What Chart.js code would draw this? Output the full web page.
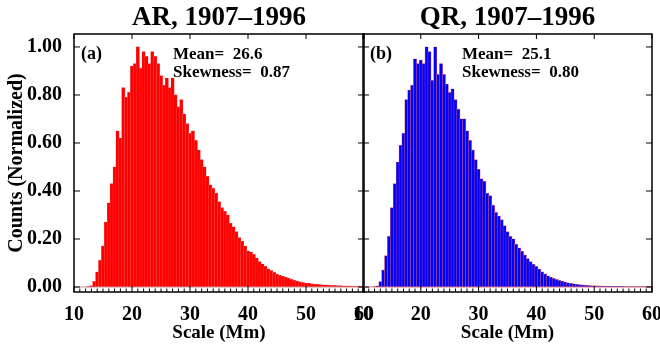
<!DOCTYPE html>
<html>
<head>
<meta charset="utf-8">
<script src="https://cdn.jsdelivr.net/npm/chart.js@4.4.1/dist/chart.umd.min.js"></script>
<style>
  html, body { margin: 0; padding: 0; background: #fff; }
  #wrap { position: relative; width: 660px; height: 345px; }
  canvas { position: absolute; left: 0; top: 0; }
</style>
</head>
<body>
<div id="wrap">
  <canvas id="arChart" width="660" height="345"></canvas>
  <canvas id="qrChart" width="660" height="345"></canvas>
</div>
<script>
// bin centres (Mm)
const scaleMm = [
  10, 10.5, 11, 11.5, 12, 12.5, 13, 13.5, 14, 14.5,
  15, 15.5, 16, 16.5, 17, 17.5, 18, 18.5, 19, 19.5,
  20, 20.5, 21, 21.5, 22, 22.5, 23, 23.5, 24, 24.5,
  25, 25.5, 26, 26.5, 27, 27.5, 28, 28.5, 29, 29.5,
  30, 30.5, 31, 31.5, 32, 32.5, 33, 33.5, 34, 34.5,
  35, 35.5, 36, 36.5, 37, 37.5, 38, 38.5, 39, 39.5,
  40, 40.5, 41, 41.5, 42, 42.5, 43, 43.5, 44, 44.5,
  45, 45.5, 46, 46.5, 47, 47.5, 48, 48.5, 49, 49.5,
  50, 50.5, 51, 51.5, 52, 52.5, 53, 53.5, 54, 54.5,
  55, 55.5, 56, 56.5, 57, 57.5, 58, 58.5, 59, 59.5,
  60
];

// AR counts (normalized)
const arCounts = [
  0, 0, 0, 0, 0, 0.002, 0.005, 0.023, 0.062, 0.11,
  0.17, 0.27, 0.35, 0.43, 0.50, 0.65, 0.62, 0.83, 0.79, 0.81,
  0.92, 0.93, 1.00, 0.91, 0.98, 0.96, 0.93, 0.98, 0.96, 0.93,
  0.88, 0.84, 0.87, 0.83, 0.87, 0.80, 0.75, 0.78, 0.72, 0.68,
  0.64, 0.65, 0.61, 0.57, 0.53, 0.50, 0.46, 0.425, 0.41, 0.39,
  0.355, 0.33, 0.315, 0.30, 0.265, 0.25, 0.23, 0.205, 0.19, 0.17,
  0.15, 0.145, 0.135, 0.12, 0.105, 0.095, 0.085, 0.075, 0.068, 0.06,
  0.053, 0.048, 0.044, 0.04, 0.036, 0.031, 0.027, 0.024, 0.021, 0.018,
  0.016, 0.015, 0.013, 0.011, 0.01, 0.009, 0.008, 0.008, 0.007, 0.006,
  0.006, 0.005, 0.005, 0.004, 0.004, 0.004, 0.003, 0.003, 0.003, 0.002,
  0.002
];

// QR counts (normalized)
const qrCounts = [
  0, 0, 0, 0, 0.001, 0.004, 0.022, 0.07, 0.13, 0.21,
  0.33, 0.43, 0.52, 0.59, 0.64, 0.78, 0.82, 0.84, 0.95, 0.93,
  0.945, 0.93, 1.00, 0.98, 0.86, 1.00, 0.885, 0.93, 0.885, 0.845,
  0.81, 0.825, 0.78, 0.74, 0.70, 0.70, 0.65, 0.61, 0.57, 0.53,
  0.49, 0.45, 0.44, 0.39, 0.38, 0.34, 0.31, 0.295, 0.28, 0.255,
  0.23, 0.21, 0.20, 0.178, 0.163, 0.148, 0.133, 0.118, 0.105, 0.094,
  0.085, 0.074, 0.062, 0.054, 0.046, 0.04, 0.035, 0.031, 0.027, 0.023,
  0.02, 0.017, 0.015, 0.013, 0.011, 0.009, 0.008, 0.007, 0.006, 0.005,
  0.005, 0.004, 0.004, 0.003, 0.003, 0.003, 0.002, 0.002, 0.002, 0.002,
  0.002, 0.001, 0.001, 0.001, 0.001, 0.001, 0.001, 0.001, 0.001, 0.001,
  0.001
];

const xTickLabels = [10, 20, 30, 40, 50, 60];
const yTicks = [0, 0.2, 0.4, 0.6, 0.8, 1.0];

const serif = 'Liberation Serif';

// box, inward ticks and the text on each panel
const framePlugin = {
  id: 'frame',
  afterDraw(chart, args, opts) {
    const { ctx, chartArea: a } = chart;
    const x = chart.scales.x, y = chart.scales.y;
    ctx.save();

    const y0 = y.getPixelForValue(0);
    ctx.strokeStyle = opts.zeroColor;
    ctx.lineWidth = 1;
    ctx.beginPath();
    ctx.moveTo(a.left, y0);
    ctx.lineTo(a.right, y0);
    ctx.stroke();

    ctx.strokeStyle = '#000';
    ctx.lineWidth = 1.5;
    ctx.strokeRect(a.left, a.top, a.right - a.left, a.bottom - a.top);

    ctx.lineWidth = 1;
    ctx.beginPath();
    scaleMm.forEach((v, i) => {
      if (v % 1 !== 0) return;
      const px = x.getPixelForValue(i);
      const major = xTickLabels.includes(v);
      ctx.moveTo(px, a.bottom);
      ctx.lineTo(px, a.bottom - (major ? 6 : 3.5));
      if (major) {
        ctx.moveTo(px, a.top);
        ctx.lineTo(px, a.top + 5);
      }
    });
    yTicks.forEach(v => {
      const py = y.getPixelForValue(v);
      ctx.moveTo(a.left, py);
      ctx.lineTo(a.left + 6, py);
      ctx.moveTo(a.right, py);
      ctx.lineTo(a.right - 6, py);
    });
    ctx.stroke();

    ctx.fillStyle = '#000';
    ctx.textBaseline = 'alphabetic';
    ctx.textAlign = 'center';
    ctx.font = 'bold 27px "' + serif + '"';
    ctx.fillText(opts.title, (a.left + a.right) / 2, 25);

    ctx.textAlign = 'left';
    ctx.font = 'bold 18px "' + serif + '"';
    ctx.fillText(opts.panel, a.left + 7, 59);
    ctx.font = 'bold 17px "' + serif + '"';
    ctx.fillText(opts.mean, a.left + 99, 59);
    ctx.fillText(opts.skew, a.left + 99, 77);
    ctx.restore();
  }
};

function makeChart(id, counts, fill, edge, edgeWidth, frame, isLeft) {
  const ctx = document.getElementById(id).getContext('2d');
  const yScale = {
    min: -0.0208,
    max: 1.054,
    afterBuildTicks: s => { s.ticks = yTicks.map(v => ({ value: v })); }
  };
  if (isLeft) {
    Object.assign(yScale, {
      grid: { display: false },
      border: { display: false },
      ticks: {
        padding: 4,
        color: '#000',
        font: { family: serif, weight: 'bold', size: 20 },
        callback: v => v.toFixed(2)
      },
      title: {
        display: true,
        text: 'Counts (Normalized)',
        color: '#000',
        font: { family: serif, weight: 'bold', size: 20 },
        padding: { top: 5, bottom: 0 }
      },
      afterFit: s => { s.width = 74; s.paddingTop = 0; s.paddingBottom = 0; }
    });
  } else {
    yScale.display = false;
  }

  return new Chart(ctx, {
    type: 'bar',
    data: {
      labels: scaleMm,
      datasets: [{
        data: counts,
        backgroundColor: fill,
        borderColor: edge,
        borderWidth: edgeWidth,
        inflateAmount: 0.5,
        barPercentage: 1,
        categoryPercentage: 1
      }]
    },
    options: {
      responsive: false,
      animation: false,
      layout: {
        padding: isLeft
          ? { left: 0, right: 296, top: 34, bottom: 0 }
          : { left: 363, right: 8, top: 34, bottom: 0 }
      },
      scales: {
        x: {
          type: 'category',
          offset: false,
          grid: { display: false },
          border: { display: false },
          ticks: {
            autoSkip: false,
            maxRotation: 0,
            padding: 3,
            color: '#000',
            font: { family: serif, weight: 'bold', size: 20 },
            callback: (val, idx) => xTickLabels.includes(scaleMm[idx]) ? String(scaleMm[idx]) : ''
          },
          title: {
            display: true,
            text: 'Scale (Mm)',
            color: '#000',
            font: { family: serif, weight: 'bold', size: 19 },
            padding: { top: 0, bottom: 1 }
          },
          afterFit: s => { s.height = 53; s.paddingLeft = 0; s.paddingRight = 0; }
        },
        y: yScale
      },
      plugins: {
        legend: { display: false },
        tooltip: { enabled: false },
        frame: frame
      }
    },
    plugins: [framePlugin]
  });
}

makeChart('arChart', arCounts, '#ff0000', '#f07070', 0.4, {
  title: 'AR, 1907\u20131996',
  panel: '(a)',
  mean: 'Mean=  26.6',
  skew: 'Skewness=  0.87',
  zeroColor: '#c89090'
}, true);

makeChart('qrChart', qrCounts, '#0000ff', '#d9606e', 0.6, {
  title: 'QR, 1907\u20131996',
  panel: '(b)',
  mean: 'Mean=  25.1',
  skew: 'Skewness=  0.80',
  zeroColor: '#d9707c'
}, false);
</script>
</body>
</html>
